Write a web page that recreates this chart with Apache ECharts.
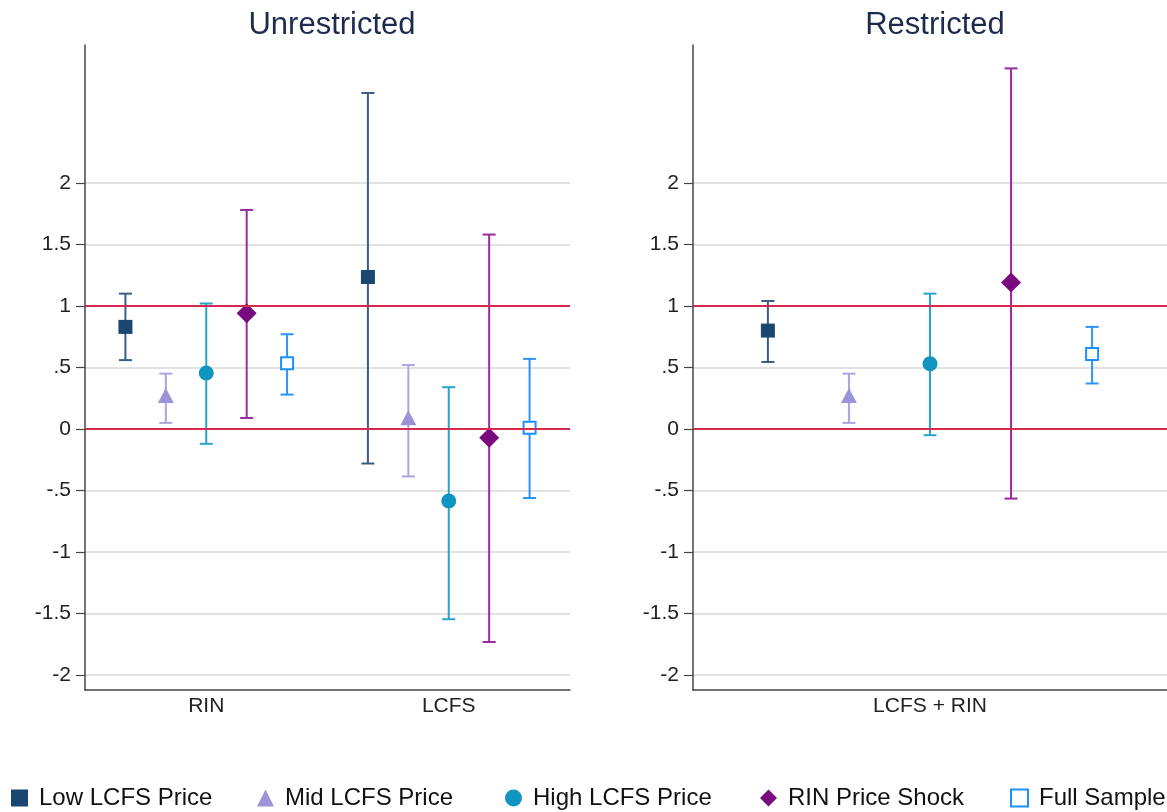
<!DOCTYPE html>
<html lang="en">
  <head>
    <meta charset="UTF-8" />
    <title>Unrestricted vs Restricted</title>
    <script src="https://cdn.jsdelivr.net/npm/echarts@6.0.0/dist/echarts.min.js"></script>
    <style>
      html, body { margin: 0; padding: 0; background: #fff; }
      #chart { width: 1167px; height: 812px; }
    </style>
  </head>
  <body>
    <div id="chart"></div>
    <script>
      // categories
      const leftCats = ["RIN", "LCFS"];
      const rightCats = ["LCFS + RIN"];
      const groups = ["Low LCFS Price", "Mid LCFS Price", "High LCFS Price", "RIN Price Shock", "Full Sample"];

      // Unrestricted: per group, [RIN, LCFS]
      const unrestrictedEst = [[0.83, 1.235], [0.26, 0.08], [0.455, -0.585], [0.94, -0.07], [0.535, 0.01]];
      const unrestrictedLo = [[0.56, -0.28], [0.05, -0.385], [-0.12, -1.545], [0.09, -1.73], [0.28, -0.56]];
      const unrestrictedHi = [[1.1, 2.73], [0.45, 0.52], [1.02, 0.34], [1.78, 1.58], [0.77, 0.57]];

      // Restricted: per group, [LCFS + RIN]
      const restrictedEst = [0.8, 0.26, 0.53, 1.19, 0.61];
      const restrictedLo = [0.545, 0.05, -0.05, -0.565, 0.37];
      const restrictedHi = [1.04, 0.45, 1.1, 2.93, 0.83];

      const yTicks = [-2, -1.5, -1, -0.5, 0, 0.5, 1, 1.5, 2];
      const refLines = [0, 1];

      const markerColors = ["#1a476f", "#9c94d8", "#0f95c0", "#7a0b7e", "#1e90ff"];
      const barColors = ["#3a5e80", "#aca5e0", "#27a4cb", "#9a2b9d", "#2b93ff"];
      const shapes = ["square", "triangle", "circle", "diamond", "hollow"];
      const legendLeft = [11, 257, 505, 760, 1010];
      const FONT = "Liberation Sans, Arial, Helvetica, sans-serif";

      function fmtTick(v) {
        let s = String(v);
        s = s.replace(/^0\./, ".").replace(/^-0\./, "-.");
        return s;
      }

      function markerShape(kind, x, y, color) {
        if (kind === "square") {
          return { type: "rect", shape: { x: x - 7, y: y - 7, width: 14, height: 14 }, style: { fill: color } };
        }
        if (kind === "hollow") {
          return { type: "rect", shape: { x: x - 6, y: y - 6, width: 12, height: 12 }, style: { fill: "#fff", stroke: color, lineWidth: 2 } };
        }
        if (kind === "triangle") {
          return { type: "polygon", shape: { points: [[x, y - 9], [x + 8, y + 6], [x - 8, y + 6]] }, style: { fill: color } };
        }
        if (kind === "circle") {
          return { type: "circle", shape: { cx: x, cy: y, r: 7.5 }, style: { fill: color } };
        }
        return { type: "polygon", shape: { points: [[x, y - 10], [x + 10, y], [x, y + 10], [x - 10, y]] }, style: { fill: color } };
      }

      function makeRender(g, spacing) {
        const slot = g - 2;
        return function (params, api) {
          const cat = api.value(0);
          const band = api.size([1, 0])[0];
          const x = api.coord([cat, 0])[0] + slot * spacing * band;
          const yEst = api.coord([cat, api.value(1)])[1];
          const yLo = api.coord([cat, api.value(2)])[1];
          const yHi = api.coord([cat, api.value(3)])[1];
          const cap = 6.5;
          const ls = { stroke: barColors[g], lineWidth: 2 };
          return {
            type: "group",
            children: [
              { type: "line", shape: { x1: x, y1: yLo, x2: x, y2: yHi }, style: ls },
              { type: "line", shape: { x1: x - cap, y1: yHi, x2: x + cap, y2: yHi }, style: ls },
              { type: "line", shape: { x1: x - cap, y1: yLo, x2: x + cap, y2: yLo }, style: ls },
              markerShape(shapes[g], x, yEst, markerColors[g])
            ]
          };
        };
      }

      const refMarkLine = {
        silent: true,
        symbol: "none",
        label: { show: false },
        lineStyle: { color: "#d6294f", width: 2, type: "solid" },
        data: refLines.map(function (v) { return { yAxis: v }; })
      };

      const series = [];
      groups.forEach(function (name, g) {
        series.push({
          name: name,
          type: "custom",
          xAxisIndex: 0,
          yAxisIndex: 0,
          itemStyle: { color: markerColors[g] },
          renderItem: makeRender(g, 1 / 6),
          encode: { x: 0, y: [1, 2, 3] },
          data: leftCats.map(function (c, i) {
            return [i, unrestrictedEst[g][i], unrestrictedLo[g][i], unrestrictedHi[g][i]];
          }),
          markLine: g === 0 ? refMarkLine : undefined,
          z: 3
        });
        series.push({
          name: name,
          type: "custom",
          xAxisIndex: 1,
          yAxisIndex: 1,
          itemStyle: { color: markerColors[g] },
          renderItem: makeRender(g, 0.171),
          encode: { x: 0, y: [1, 2, 3] },
          data: rightCats.map(function (c, i) {
            return [i, restrictedEst[g], restrictedLo[g], restrictedHi[g]];
          }),
          markLine: g === 0 ? refMarkLine : undefined,
          z: 3
        });
      });

      function yAxisCfg(idx) {
        return {
          type: "value",
          gridIndex: idx,
          min: -2.12,
          max: 3.12,
          axisLine: { show: true, lineStyle: { color: "#444", width: 1.5 } },
          axisTick: { show: true, length: 9, customValues: yTicks, lineStyle: { color: "#444", width: 1.2 } },
          axisLabel: {
            customValues: yTicks,
            formatter: fmtTick,
            fontSize: 21,
            color: "#222",
            fontFamily: FONT,
            margin: 14
          },
          splitLine: { show: true, lineStyle: { color: "#d8d8d8", width: 1.5 } }
        };
      }

      function xAxisCfg(idx, cats) {
        return {
          type: "category",
          gridIndex: idx,
          data: cats,
          boundaryGap: true,
          axisLine: { show: true, onZero: false, lineStyle: { color: "#444", width: 1.5 } },
          axisTick: { show: false },
          axisLabel: { fontSize: 21, color: "#222", fontFamily: FONT, margin: 6 },
          splitLine: { show: false }
        };
      }

      // one legend per group so each item sits where it does in the original
      const icons = ["rect", "triangle", "circle", "diamond", "rect"];
      const legends = groups.map(function (name, g) {
        const item = { name: name, icon: icons[g] };
        if (g === 4) {
          item.itemStyle = { color: "#fff", borderColor: markerColors[g], borderWidth: 2 };
        }
        return {
          data: [item],
          left: legendLeft[g],
          top: 786,
          padding: 0,
          itemWidth: 17,
          itemHeight: 17,
          textStyle: { fontSize: 24, color: "#111", fontFamily: FONT, padding: [0, 0, 0, 6] }
        };
      });

      const chart = echarts.init(document.getElementById("chart"));
      chart.setOption({
        backgroundColor: "#fff",
        animation: false,
        title: [
          {
            text: "Unrestricted",
            left: 327,
            top: 5,
            textAlign: "center",
            textStyle: { fontSize: 31, fontWeight: "normal", color: "#1e2b4e", fontFamily: FONT }
          },
          {
            text: "Restricted",
            left: 930,
            top: 5,
            textAlign: "center",
            textStyle: { fontSize: 31, fontWeight: "normal", color: "#1e2b4e", fontFamily: FONT }
          }
        ],
        legend: legends,
        grid: [
          { left: 85, top: 45, width: 485, height: 645 },
          { left: 693, top: 45, width: 474, height: 645 }
        ],
        xAxis: [xAxisCfg(0, leftCats), xAxisCfg(1, rightCats)],
        yAxis: [yAxisCfg(0), yAxisCfg(1)],
        series: series
      });
    </script>
  </body>
</html>
